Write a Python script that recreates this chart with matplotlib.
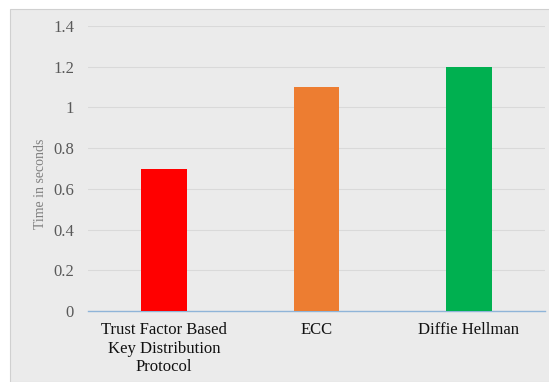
import matplotlib
matplotlib.use("Agg")
import matplotlib.pyplot as plt
from matplotlib.patches import Rectangle

categories = ["Trust Factor Based\nKey Distribution\nProtocol", "ECC", "Diffie Hellman"]
times = [0.7, 1.1, 1.2]
colors = ["#ff0000", "#ed7d31", "#00b050"]
yticks = [0, 0.2, 0.4, 0.6, 0.8, 1, 1.2, 1.4]
ytick_labels = ["0", "0.2", "0.4", "0.6", "0.8", "1", "1.2", "1.4"]

plt.rcParams["font.family"] = ["Liberation Serif", "DejaVu Serif"]

fig = plt.figure(figsize=(5.49, 3.82), dpi=100)
fig.patches.append(Rectangle((10 / 549, 0), 1, 1 - 9 / 382, transform=fig.transFigure,
                             facecolor="#ebebeb", edgecolor="#d0d0d0", lw=0.8, zorder=-1))
ax = fig.add_axes([88 / 549, 1 - 311 / 382, 457 / 549, 285 / 382])
ax.set_facecolor("none")

x = range(len(categories))
ax.bar(x, times, width=0.3, color=colors, zorder=3)
ax.set_xlim(-0.5, 2.5)
ax.set_ylim(0, 1.4)
ax.set_yticks(yticks)
ax.set_yticklabels(ytick_labels, fontsize=12, color="#595959")
ax.set_xticks(list(x))
ax.set_xticklabels(categories, fontsize=12, color="#111111", linespacing=1.2)
ax.tick_params(axis="both", length=0)
ax.tick_params(axis="y", pad=10)
ax.tick_params(axis="x", pad=8)
ax.grid(axis="y", color="#d9d9d9", lw=0.8, zorder=0)
for s in ["top", "right", "left"]:
    ax.spines[s].set_visible(False)
ax.spines["bottom"].set_color("#8fb4d8")
ax.spines["bottom"].set_linewidth(1.0)
ax.set_ylabel("Time in seconds", fontsize=10, color="#7f7f7f")
ax.yaxis.set_label_coords(-0.09, 0.447)

fig.savefig("out.png", dpi=100)
